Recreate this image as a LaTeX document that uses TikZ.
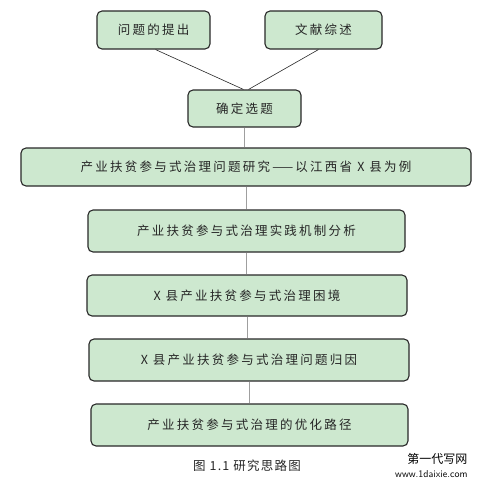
\documentclass[tikz,border=0pt]{standalone}
\usepackage{fontspec}
\usepackage{xcolor}
\usetikzlibrary{positioning}
\newfontfamily\cjk[LetterSpace=18]{Noto Sans CJK SC}
\newfontfamily\cjkcap[LetterSpace=10]{Noto Sans CJK SC}
\newfontfamily\cjkplain{Noto Sans CJK SC}
\definecolor{boxgreen}{RGB}{205,232,207}
\definecolor{boxline}{RGB}{40,40,40}

\begin{document}
\begin{tikzpicture}[x=1pt, y=-1pt,
  stage/.style={draw=boxline, line width=1.1pt, fill=boxgreen, rounded corners=5pt,
    inner sep=0pt, font=\cjk\fontsize{12.5}{14}\selectfont, text=black!85},
  link/.style={line width=0.6pt, black!85},
  flow/.style={line width=1pt, gray!75},
  lbl/.style={font=\cjkcap\fontsize{12.5}{14}\selectfont, text=black!85}
]
  \useasboundingbox (0,0) rectangle (482,488);

  % Top: sources of the topic
  \node[stage, minimum width=113pt, minimum height=38pt] (problem) at (153.5,30) {问题的提出};
  \node[stage, minimum width=117pt, minimum height=38pt] (review) at (323.5,30) {文献综述};
  \node[stage, minimum width=113pt, minimum height=37pt] (topic) at (244.5,108.5) {确定选题};

  % Main chain
  \node[stage, minimum width=450pt, minimum height=38pt] (title) at (246,167) {产业扶贫参与式治理问题研究——以江西省 X 县为例};
  \node[stage, minimum width=317pt, minimum height=42pt] (mech) at (246.5,231) {产业扶贫参与式治理实践机制分析};
  \node[stage, minimum width=320pt, minimum height=41pt] (plight) at (247,295.5) {X 县产业扶贫参与式治理困境};
  \node[stage, minimum width=320pt, minimum height=42pt] (cause) at (249,360) {X 县产业扶贫参与式治理问题归因};
  \node[stage, minimum width=317pt, minimum height=42pt] (path) at (249.5,425) {产业扶贫参与式治理的优化路径};

  % Connectors
  \draw[link] ([xshift=2pt]problem.south) -- ([xshift=-1pt]topic.north);
  \draw[link] ([xshift=-5pt]review.south) -- ([xshift=4pt]topic.north);
  \draw[flow] (topic.south) -- (topic.south |- title.north);
  \draw[flow] (title.south) -- (title.south |- mech.north);
  \draw[flow] (mech.south) -- (mech.south |- plight.north);
  \draw[flow] (plight.south) -- (plight.south |- cause.north);
  \draw[flow] (cause.south) -- (cause.south |- path.north);

  % Caption and mark
  \node[lbl] (caption) at (247,466) {图 1.1 研究思路图};
  \node[lbl, anchor=east, font=\cjkplain\fontsize{12}{13}\selectfont, text=black] (mark1) at (471,459) {第一代写网};
  \node[lbl, anchor=east, font=\fontsize{10}{11}\sffamily, text=black] (mark2) at (471,474) {www.1daixie.com};
\end{tikzpicture}
\end{document}
